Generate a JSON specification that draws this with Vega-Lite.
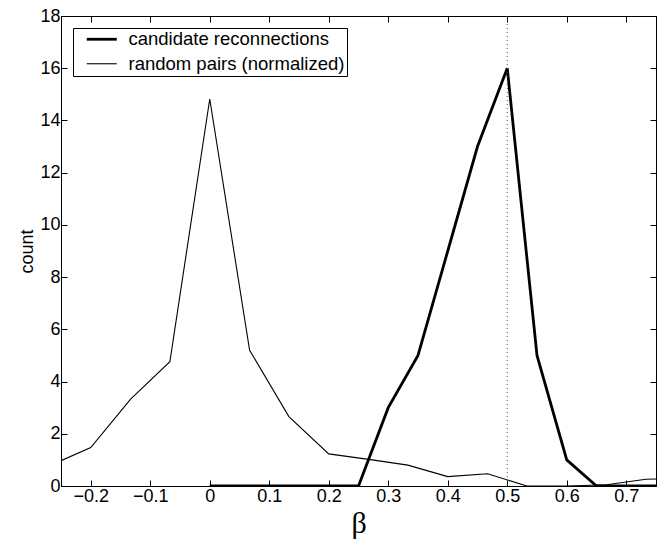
{
  "$schema": "https://vega.github.io/schema/vega-lite/v6.json",
  "width": 595,
  "height": 470,
  "autosize": {"type": "none"},
  "padding": {"left": 61, "top": 16, "right": 5, "bottom": 60},
  "background": "white",
  "config": {
    "view": {"stroke": "black", "strokeWidth": 1},
    "axis": {
      "grid": false,
      "domainColor": "black",
      "tickColor": "black",
      "labelColor": "black",
      "labelFont": "Liberation Sans",
      "labelFontSize": 18,
      "titleFont": "Liberation Sans",
      "titleColor": "black",
      "titleFontWeight": "normal",
      "tickSize": -6,
      "labelPadding": 7
    },
    "legend": {
      "orient": "top-left",
      "offset": 12,
      "title": null,
      "strokeColor": "black",
      "fillColor": "white",
      "padding": 2,
      "labelFont": "Liberation Sans",
      "labelFontSize": 18.5,
      "labelColor": "black",
      "labelLimit": 0,
      "symbolType": "M-2,0H2",
      "symbolSize": 225,
      "symbolOffset": 17.5,
      "rowPadding": 5.5,
      "labelOffset": 17.5
    }
  },
  "datasets": {
    "curves": [
      {"beta": -0.25, "count": 0.97, "series": "random pairs (normalized)"},
      {"beta": -0.2, "count": 1.47, "series": "random pairs (normalized)"},
      {"beta": -0.133, "count": 3.33, "series": "random pairs (normalized)"},
      {"beta": -0.067, "count": 4.76, "series": "random pairs (normalized)"},
      {"beta": 0.0, "count": 14.82, "series": "random pairs (normalized)"},
      {"beta": 0.067, "count": 5.2, "series": "random pairs (normalized)"},
      {"beta": 0.133, "count": 2.66, "series": "random pairs (normalized)"},
      {"beta": 0.2, "count": 1.23, "series": "random pairs (normalized)"},
      {"beta": 0.267, "count": 1.02, "series": "random pairs (normalized)"},
      {"beta": 0.333, "count": 0.8, "series": "random pairs (normalized)"},
      {"beta": 0.4, "count": 0.36, "series": "random pairs (normalized)"},
      {"beta": 0.467, "count": 0.47, "series": "random pairs (normalized)"},
      {"beta": 0.533, "count": 0.0, "series": "random pairs (normalized)"},
      {"beta": 0.6, "count": 0.0, "series": "random pairs (normalized)"},
      {"beta": 0.667, "count": 0.05, "series": "random pairs (normalized)"},
      {"beta": 0.733, "count": 0.26, "series": "random pairs (normalized)"},
      {"beta": 0.75, "count": 0.27, "series": "random pairs (normalized)"},
      {"beta": 0.0, "count": 0, "series": "candidate reconnections"},
      {"beta": 0.05, "count": 0, "series": "candidate reconnections"},
      {"beta": 0.1, "count": 0, "series": "candidate reconnections"},
      {"beta": 0.15, "count": 0, "series": "candidate reconnections"},
      {"beta": 0.2, "count": 0, "series": "candidate reconnections"},
      {"beta": 0.25, "count": 0, "series": "candidate reconnections"},
      {"beta": 0.3, "count": 3, "series": "candidate reconnections"},
      {"beta": 0.35, "count": 5, "series": "candidate reconnections"},
      {"beta": 0.4, "count": 9, "series": "candidate reconnections"},
      {"beta": 0.45, "count": 13, "series": "candidate reconnections"},
      {"beta": 0.5, "count": 16, "series": "candidate reconnections"},
      {"beta": 0.55, "count": 5, "series": "candidate reconnections"},
      {"beta": 0.6, "count": 1, "series": "candidate reconnections"},
      {"beta": 0.65, "count": 0, "series": "candidate reconnections"},
      {"beta": 0.7, "count": 0, "series": "candidate reconnections"},
      {"beta": 0.75, "count": 0, "series": "candidate reconnections"}
    ],
    "marker": [{"beta": 0.5}]
  },
  "layer": [
    {
      "data": {"name": "curves"},
      "mark": {"type": "line", "clip": true, "strokeJoin": "miter"},
      "encoding": {
        "x": {
          "field": "beta",
          "type": "quantitative",
          "scale": {"domain": [-0.25, 0.75], "nice": false, "zero": false},
          "axis": {
            "orient": "bottom",
            "values": [-0.2, -0.1, 0, 0.1, 0.2, 0.3, 0.4, 0.5, 0.6, 0.7],
            "format": "~g",
            "title": "β",
            "titleFont": "Liberation Serif",
            "titleFontSize": 30,
            "titlePadding": 3
          }
        },
        "y": {
          "field": "count",
          "type": "quantitative",
          "scale": {"domain": [0, 18], "nice": false},
          "axis": {
            "orient": "left",
            "values": [0, 2, 4, 6, 8, 10, 12, 14, 16, 18],
            "title": "count",
            "titleFontSize": 18,
            "titlePadding": 3
          }
        },
        "color": {
          "field": "series",
          "type": "nominal",
          "scale": {"domain": ["candidate reconnections", "random pairs (normalized)"], "range": ["black", "black"]}
        },
        "strokeWidth": {
          "field": "series",
          "type": "nominal",
          "scale": {"domain": ["candidate reconnections", "random pairs (normalized)"], "range": [2.8, 1.1]}
        }
      }
    },
    {
      "data": {"name": "marker"},
      "mark": {"type": "rule", "color": "#555555", "strokeDash": [1, 3], "strokeWidth": 1},
      "encoding": {
        "x": {"field": "beta", "type": "quantitative", "axis": null}
      }
    },
    {
      "data": {"name": "curves"},
      "mark": {"type": "point", "opacity": 0},
      "encoding": {
        "x": {
          "field": "beta",
          "type": "quantitative",
          "axis": {
            "orient": "top",
            "values": [-0.2, -0.1, 0, 0.1, 0.2, 0.3, 0.4, 0.5, 0.6, 0.7],
            "labels": false,
            "title": null
          }
        },
        "y": {
          "field": "count",
          "type": "quantitative",
          "axis": {
            "orient": "right",
            "values": [0, 2, 4, 6, 8, 10, 12, 14, 16, 18],
            "labels": false,
            "title": null
          }
        }
      }
    }
  ],
  "resolve": {"axis": {"x": "independent", "y": "independent"}}
}
